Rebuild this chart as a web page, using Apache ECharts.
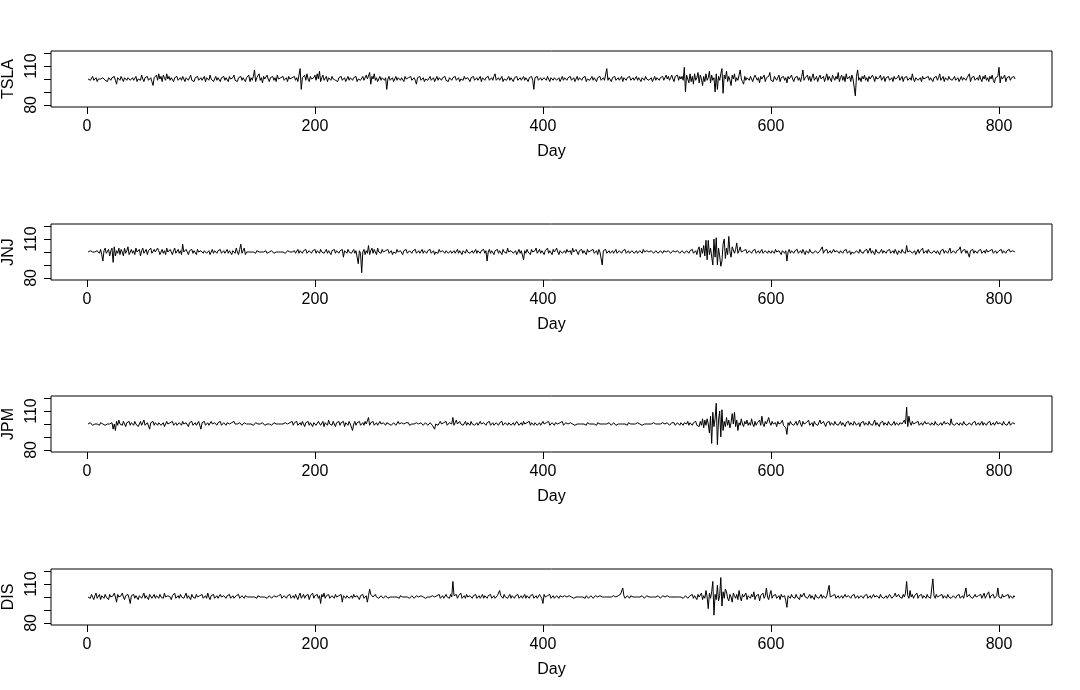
<!DOCTYPE html>
<html>
<head>
<meta charset="utf-8">
<script src="https://cdn.jsdelivr.net/npm/echarts@6/dist/echarts.min.js"></script>
<style>
html,body{margin:0;padding:0;background:#fff;}
#chart{width:1080px;height:690px;}
</style>
</head>
<body>
<div id="chart"></div>
<script>
// ---- Data (one per day) ----
const tickers = ["TSLA", "JNJ", "JPM", "DIS"];
const xTicks = [0, 200, 400, 600, 800];
const yTicks = [80, 90, 100, 110, 120];
const yLabels = [80, 110];

const TSLA = [
100,101,99,100,102,99,100,101,98,100,101,100,99,101,102,99,100,98,101,100,
99,101,100,102,99,96,101,100,99,102,100,98,101,100,99,101,102,99,100,101,
99,100,102,98,100,101,99,103,100,98,101,100,102,99,100,101,98,95,101,100,
103,99,104,100,102,98,103,101,99,104,100,102,99,101,100,98,101,100,102,99,
100,101,99,102,100,98,101,100,99,101,103,99,100,98,101,100,102,99,100,101,
99,100,102,98,101,100,99,103,100,101,98,100,102,99,101,100,98,101,100,102,
99,101,100,98,102,100,99,101,103,99,100,98,101,100,102,99,101,100,98,101,
100,103,98,101,99,102,107,98,101,100,104,99,101,97,102,100,99,103,100,98,
101,100,102,99,101,98,103,100,99,101,100,102,99,100,101,98,102,100,99,101,
100,102,99,101,98,103,108,92,101,100,103,99,104,100,98,102,100,99,101,103,
99,104,100,106,98,101,103,99,100,102,98,101,100,99,102,100,101,99,100,98,
101,100,102,99,100,101,98,100,102,99,101,100,99,101,100,102,98,100,101,99,
100,102,99,101,103,100,99,105,96,102,100,104,99,101,98,100,102,99,101,100,
99,101,92,100,102,99,100,101,98,100,102,99,101,100,99,101,100,98,102,100,
99,101,100,102,99,100,101,99,96,101,100,102,99,100,101,98,100,101,99,100,
102,99,100,101,98,100,102,99,101,100,99,101,100,102,99,100,98,101,100,99,
101,100,102,99,100,101,98,100,101,99,102,100,99,101,100,98,101,100,102,99,
100,101,99,100,102,98,101,100,99,101,100,102,99,100,101,99,102,104,99,100,
101,99,100,102,98,100,101,99,100,102,99,101,100,98,101,100,102,99,100,101,
99,100,102,99,101,100,98,101,100,102,99,92,101,100,102,99,100,101,99,100,
101,100,99,102,100,98,101,100,99,101,102,99,100,101,98,100,102,99,101,100,
99,101,100,102,99,100,101,98,100,102,99,101,100,99,101,100,102,98,100,101,
99,100,102,99,101,100,98,101,100,102,99,100,101,99,100,108,99,101,100,98,
101,100,102,99,100,101,99,100,102,98,101,100,99,101,100,102,99,100,101,99,
100,102,99,101,100,98,101,100,99,102,100,101,99,100,101,98,100,102,99,101,
100,99,101,100,102,99,101,103,100,102,99,101,103,100,98,102,101,103,99,102,
100,102,99,109,90,103,100,97,104,98,102,96,104,99,101,105,97,103,100,95,
102,98,104,99,101,106,97,103,99,101,90,104,92,102,99,104,108,89,103,100,
106,98,102,99,95,103,100,104,98,101,99,103,107,100,98,96,102,99,101,100,
99,102,100,98,101,103,104,99,101,97,102,100,99,103,98,101,100,102,105,99,
100,98,102,101,99,100,103,98,101,100,102,99,101,97,102,100,99,103,100,98,
101,100,102,99,101,98,102,107,99,101,100,103,99,102,98,101,104,99,100,102,
98,101,103,100,99,102,98,101,104,99,102,100,98,103,101,99,102,100,105,98,
101,103,99,102,98,104,100,99,102,98,103,100,101,87,102,107,99,101,98,102,
100,103,99,101,98,102,100,99,103,101,98,102,100,99,101,103,99,100,102,98,
101,100,102,99,100,101,98,102,100,99,101,103,99,100,102,98,101,100,102,99,
100,101,99,104,100,98,101,102,99,100,101,98,102,100,99,101,100,102,99,101,
100,98,101,100,102,99,101,104,99,100,102,98,101,100,99,102,100,101,99,100,
102,99,100,101,98,100,102,99,101,100,99,101,100,104,98,101,100,102,99,100,
101,99,103,100,98,102,100,103,99,101,98,102,100,103,99,97,101,100,102,109,
97,102,100,99,103,98,101,100,102,99,101,100,102,100
];

const JNJ = [
100,100,101,100,100,99,100,100,101,100,99,102,98,93,101,103,99,100,102,97,
101,103,92,104,97,101,99,103,98,102,100,97,103,99,101,104,98,100,102,99,
101,98,103,100,99,102,97,101,103,99,100,102,98,101,100,103,99,98,102,100,
99,103,101,98,100,102,99,101,98,103,100,99,102,100,98,101,103,99,100,102,
99,101,98,106,100,99,102,100,98,101,100,102,99,101,100,98,102,100,99,101,
100,99,101,102,99,100,101,98,100,102,99,101,100,99,101,100,102,99,100,101,
99,100,102,99,101,100,98,101,102,99,103,100,98,102,106,99,101,103,98,100,
101,100,99,100,101,100,100,99,101,100,100,99,100,101,100,100,101,99,100,100,
100,101,100,99,100,100,101,100,99,100,101,100,100,99,100,101,100,100,99,100,
100,101,99,100,102,99,101,100,99,101,100,102,99,100,101,100,99,101,100,102,
99,101,100,99,102,100,101,99,100,102,99,101,100,98,101,100,102,99,101,100,
99,101,100,102,96,101,100,99,102,100,101,99,100,102,99,101,100,91,101,99,
84,100,102,98,101,99,105,98,101,103,99,102,100,98,103,100,101,99,102,100,
99,101,100,102,99,100,101,98,100,101,99,102,100,99,101,100,98,101,100,102,
99,100,101,100,99,101,100,102,99,100,101,99,100,102,99,101,100,99,101,100,
102,99,100,101,98,100,101,99,102,100,99,101,100,99,101,102,99,100,101,99,
100,101,99,100,102,99,101,100,98,101,100,99,102,100,101,99,100,101,99,100,
102,99,101,100,99,101,100,102,99,101,93,100,102,99,101,100,98,101,100,102,
99,101,100,98,102,100,101,99,103,100,99,101,102,99,100,101,98,100,102,99,
101,100,94,101,99,102,100,101,98,102,100,99,101,103,99,100,102,99,101,100,
98,101,100,103,99,101,100,98,102,100,99,103,100,98,101,102,99,100,101,99,
102,100,99,101,98,103,100,99,102,100,98,101,100,102,99,101,100,98,102,100,
99,101,100,102,99,100,101,98,102,100,99,90,101,100,102,99,100,101,99,100,
101,99,100,102,99,100,101,100,99,101,100,102,99,100,101,99,100,101,100,99,
100,101,99,100,101,100,99,102,100,99,101,100,100,99,101,100,99,100,101,100,
99,100,101,100,99,101,100,100,99,101,100,99,100,101,100,100,99,101,100,99,
100,101,100,99,100,101,100,99,101,100,102,99,100,101,98,102,104,96,103,99,
105,97,109,94,109,98,103,104,90,110,96,111,90,103,97,89,93,106,110,95,
103,98,112,100,96,104,105,99,102,107,99,101,104,100,99,101,100,102,99,100,
101,100,99,101,100,102,99,100,101,99,100,102,99,100,101,100,99,101,100,99,
101,100,99,102,100,99,101,100,98,101,100,99,101,93,100,102,99,101,100,99,
101,100,102,99,100,101,99,102,100,98,101,100,99,102,100,101,99,100,101,102,
99,100,101,100,104,99,101,100,102,99,100,101,99,100,102,100,99,101,100,99,
101,100,99,101,100,102,99,100,101,98,100,101,99,100,101,100,99,102,100,101,
99,101,100,102,99,100,103,99,101,100,98,102,100,101,99,100,102,99,101,100,
99,101,100,102,99,100,101,99,102,100,98,101,100,99,102,100,101,99,105,100,
99,101,102,99,100,101,98,100,102,99,101,100,103,99,100,101,99,102,100,101,
99,100,101,102,99,101,100,98,101,100,102,99,101,100,99,101,103,99,100,101,
100,99,101,100,102,104,99,101,100,102,99,101,100,96,101,100,102,99,101,100,
99,101,100,102,99,100,101,99,102,100,99,101,100,102,99,100,101,99,100,101,
100,102,99,101,100,99,101,100,102,100,99,101,100,100
];

const JPM = [
100,100,101,100,99,100,100,101,100,100,99,101,100,100,101,99,100,100,101,100,
99,101,96,100,95,102,99,103,100,101,99,102,100,98,101,100,102,99,101,100,
99,102,100,101,98,100,102,99,101,103,99,100,101,102,96,101,100,102,99,101,
100,99,101,102,99,100,101,98,100,102,100,99,101,100,102,99,100,101,99,100,
101,100,99,102,100,99,101,100,98,101,100,102,99,100,101,99,100,102,99,96,
101,100,102,99,100,101,99,100,102,100,99,101,100,99,101,100,102,99,100,101,
100,99,101,100,100,99,101,100,102,100,99,100,100,101,100,99,100,101,100,100,
99,100,101,100,100,99,100,101,100,100,99,100,100,101,100,99,100,100,101,100,
100,99,100,101,100,100,99,100,101,100,99,100,100,101,100,100,99,101,100,102,
99,101,100,102,99,100,101,99,102,100,98,101,100,102,99,101,100,98,101,102,
99,100,102,101,99,100,102,98,101,100,99,103,100,101,99,102,100,98,101,100,
102,99,101,100,102,98,101,100,99,102,100,101,95,100,102,99,101,100,102,99,
100,101,99,102,100,101,105,99,101,100,102,99,100,101,99,100,102,100,99,101,
100,99,101,100,100,101,99,100,101,100,99,100,102,100,99,101,100,100,99,101,
100,101,99,100,100,101,100,99,101,100,100,99,101,100,99,100,101,100,99,100,
101,100,99,100,96,100,101,99,100,102,100,99,101,100,102,99,100,101,102,100,
105,99,101,103,100,99,102,100,101,99,100,102,99,101,100,99,102,100,101,99,
100,101,99,100,102,100,99,101,100,99,101,100,102,99,100,101,99,100,101,100,
99,101,100,102,99,100,101,100,99,101,102,99,100,101,99,100,102,101,99,100,
101,99,102,100,99,101,100,102,99,101,100,99,101,102,99,100,101,99,100,102,
100,99,101,100,102,99,100,101,100,99,101,100,100,99,101,100,102,99,100,101,
100,100,99,101,100,100,101,99,100,100,101,100,99,100,101,100,100,99,101,100,
100,99,100,101,100,100,99,101,100,100,99,100,101,100,99,100,100,101,100,99,
100,101,100,99,100,100,101,100,99,100,101,100,100,99,101,100,100,99,100,101,
100,99,101,100,100,101,99,100,100,101,100,99,100,101,100,99,101,100,100,99,
100,101,100,99,101,100,100,99,101,100,99,100,101,100,101,99,100,101,100,99,
101,100,99,101,100,100,102,99,101,100,99,101,100,102,99,100,98,102,99,104,
97,103,99,104,100,93,106,85,109,98,104,116,84,103,110,90,111,95,102,98,
105,99,103,97,101,108,100,109,98,103,95,101,99,104,100,98,102,100,103,99,
101,99,104,100,98,102,99,101,100,103,99,106,100,98,102,100,99,105,101,99,
102,100,99,101,98,102,100,99,101,103,99,100,97,92,101,99,102,100,101,99,
100,102,99,101,103,100,98,102,100,99,101,100,103,99,100,101,98,102,100,101,
99,101,103,100,99,102,100,98,101,100,102,99,101,100,99,102,100,101,99,100,
102,99,101,100,98,101,100,102,99,101,100,99,102,101,99,100,101,98,101,100,
102,99,101,100,99,102,100,101,99,100,103,99,101,100,98,101,100,102,99,101,
100,99,102,100,101,99,100,102,99,101,100,99,101,102,100,99,103,100,113,98,
106,101,99,102,100,99,101,100,102,99,100,101,99,100,102,100,99,101,100,99,
101,100,99,102,100,101,99,100,101,99,100,102,100,99,101,100,99,104,100,101,
99,100,101,100,99,101,100,99,102,100,101,99,100,101,100,99,101,100,102,99,
100,101,99,100,102,99,101,100,99,101,100,102,99,100,101,99,100,102,100,99,
101,100,99,102,100,101,99,100,102,99,100,101,100,100
];

const DIS = [
100,101,99,102,100,98,101,103,99,100,102,98,101,100,99,102,100,101,98,102,
100,99,101,103,100,96,102,100,99,101,103,100,98,101,100,102,99,95,101,100,
102,99,101,100,98,101,102,99,100,103,99,101,100,98,102,101,99,100,102,99,
101,100,99,102,100,101,99,103,100,99,101,102,100,98,101,100,103,99,100,101,
99,102,100,101,99,100,103,99,101,100,98,102,100,101,99,102,100,99,101,100,
102,99,100,101,99,103,100,98,101,100,102,99,100,101,99,100,102,100,99,101,
100,99,101,100,102,99,100,101,99,100,101,100,102,99,100,101,100,99,101,100,
100,101,100,99,100,101,100,100,99,101,100,100,99,100,101,100,100,99,100,101,
100,99,100,101,100,100,99,101,100,102,99,100,101,100,99,101,100,102,99,100,
101,99,102,100,98,101,103,99,100,102,99,101,100,102,98,101,100,103,99,101,
100,102,99,101,95,102,100,103,99,101,100,102,99,98,101,100,99,102,100,99,
101,100,102,96,101,100,99,101,102,99,100,101,99,102,100,99,101,100,98,101,
100,102,99,100,101,96,101,106,102,101,100,99,102,100,101,99,100,101,100,99,
100,101,100,99,100,100,101,100,99,100,101,100,100,99,101,100,100,99,100,101,
100,100,99,100,101,100,99,100,101,100,100,99,101,100,100,101,99,100,100,101,
100,99,101,100,100,99,101,100,102,99,100,101,99,100,102,100,101,99,102,100,
112,101,100,102,99,101,100,103,99,100,101,99,102,100,99,101,100,99,101,100,
102,99,100,101,99,100,102,99,101,100,99,101,100,102,99,100,101,99,100,101,
100,105,101,100,99,102,100,101,99,100,102,99,101,100,99,101,100,102,99,100,
101,99,100,102,99,101,100,99,101,100,102,99,100,101,99,100,102,101,99,95,
102,100,99,101,100,102,99,100,101,99,100,101,100,99,101,100,100,99,101,100,
100,99,101,100,100,101,99,100,100,101,100,99,100,101,100,100,99,101,100,99,
100,101,100,99,100,101,100,100,99,101,100,100,99,100,101,100,99,100,101,100,
99,101,100,100,99,101,100,102,103,107,101,99,100,101,100,99,101,100,100,99,
100,101,100,99,100,100,101,100,99,100,101,100,100,99,100,101,100,99,100,100,
101,100,99,100,101,100,100,99,101,100,100,99,100,101,100,99,100,101,100,99,
100,101,99,100,101,100,99,98,101,100,102,99,101,100,98,102,100,99,103,98,
101,99,105,100,91,103,99,104,112,86,102,98,109,97,101,115,93,104,99,106,
104,99,97,102,100,96,103,101,99,102,98,105,100,97,102,100,99,103,98,101,
100,99,102,100,104,98,101,100,102,97,101,100,103,99,101,107,100,98,102,105,
99,101,100,102,99,100,101,98,102,100,99,101,97,92,101,100,99,102,100,101,
99,102,100,101,98,102,100,99,103,100,101,99,100,102,99,101,100,98,102,100,
101,99,100,102,99,101,100,99,101,100,109,100,99,101,100,102,99,100,101,99,
100,101,99,100,102,100,99,101,100,99,101,100,102,99,100,101,99,100,101,100,
99,101,100,102,99,100,101,99,100,102,100,99,101,100,99,102,100,101,99,100,
101,99,100,102,101,99,100,101,103,100,99,102,100,101,99,102,100,103,112,101,
99,105,100,102,99,101,100,103,99,101,100,102,99,101,100,99,102,100,101,99,
100,114,101,99,102,100,99,101,100,102,99,101,100,99,102,100,101,99,100,101,
100,99,101,100,102,99,100,101,99,103,107,100,99,102,100,101,99,100,102,100,
99,101,100,102,99,100,103,99,101,100,104,99,101,100,102,99,100,101,107,100,
101,99,102,100,99,101,100,102,99,101,100,99,101,100
];

const seriesValues = [TSLA, JNJ, JPM, DIS];

// ---- Chart ----
const FONT = "'Liberation Sans', Arial, sans-serif";
const panelTops = [51, 224, 396, 569];
const grids = [], xAxes = [], yAxes = [], series = [];
tickers.forEach(function (name, i) {
  grids.push({
    left: 51, top: panelTops[i], width: 1001, height: 56,
    show: true, borderColor: '#000', borderWidth: 1, backgroundColor: 'transparent',
    containLabel: false, outerBoundsMode: 'none'
  });
  xAxes.push({
    type: 'value', gridIndex: i, min: -31.5, max: 846.5,
    name: 'Day', nameLocation: 'middle', nameGap: 37,
    nameTextStyle: { color: '#000', fontSize: 16, fontFamily: FONT },
    axisLine: { show: false, onZero: false },
    axisTick: { show: true, length: 7, inside: false, customValues: xTicks,
                lineStyle: { color: '#000', width: 1 } },
    axisLabel: { show: true, customValues: xTicks, margin: 12, color: '#000',
                 fontSize: 16, fontFamily: FONT },
    splitLine: { show: false }
  });
  yAxes.push({
    type: 'value', gridIndex: i, min: 78.4, max: 121.6,
    name: name, nameLocation: 'middle', nameGap: 34, nameRotate: 90,
    nameTextStyle: { color: '#000', fontSize: 16, fontFamily: FONT },
    axisLine: { show: false, onZero: false },
    axisTick: { show: true, length: 7, inside: false, customValues: yTicks,
                lineStyle: { color: '#000', width: 1 } },
    axisLabel: { show: true, customValues: yLabels, rotate: 90, margin: 11,
                 color: '#000', fontSize: 16, fontFamily: FONT },
    splitLine: { show: false }
  });
  const vals = seriesValues[i];
  const pts = vals.map(function (v, k) { return [k + 1, v]; });
  series.push({
    type: 'line', xAxisIndex: i, yAxisIndex: i, data: pts,
    showSymbol: false, symbol: 'none', silent: true,
    lineStyle: { color: '#000', width: 1 }
  });
});

const chart = echarts.init(document.getElementById('chart'), null, { renderer: 'canvas' });
chart.setOption({
  animation: false,
  backgroundColor: '#fff',
  textStyle: { fontFamily: FONT },
  grid: grids, xAxis: xAxes, yAxis: yAxes, series: series
});
</script>
</body>
</html>
